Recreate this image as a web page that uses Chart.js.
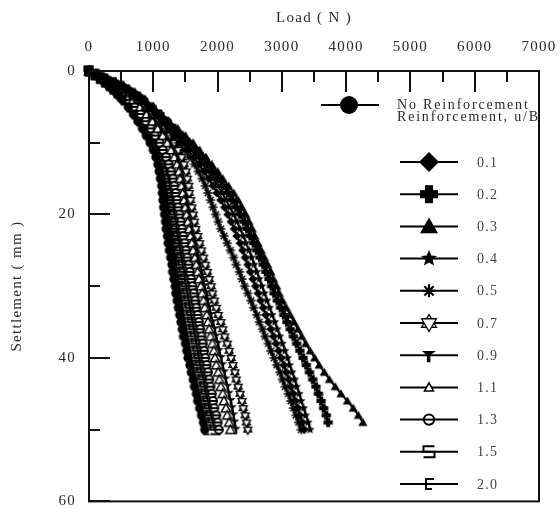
<!DOCTYPE html>
<html>
<head>
<meta charset="utf-8">
<script src="https://cdn.jsdelivr.net/npm/chart.js@4.4.0/dist/chart.umd.min.js"></script>
<style>
  html, body { margin: 0; padding: 0; background: #fff; }
  #wrap { width: 560px; height: 508px; }
</style>
</head>
<body>
<div id="wrap"><canvas id="chart" width="560" height="508"></canvas></div>
<script>
// settlement levels (mm) shared by all curves
const settlement = [0, 0.5, 1, 1.5, 2, 2.5, 3, 3.5, 4,
  5, 6, 7, 8, 9, 10, 11, 12, 13, 14, 15, 16, 17, 18, 19, 20,
  21, 22, 23, 24, 25, 26, 27, 28, 29, 30, 31, 32, 33, 34, 35,
  36, 37, 38, 39, 40, 41, 42, 43, 44, 45, 46, 47, 48, 49, 50];

// load (N) at those settlements
const loadNone = [0, 80, 160, 230, 300, 360, 420, 470, 520,
  610, 690, 760, 830, 890, 950, 1000, 1040, 1070, 1090, 1110, 1130, 1140, 1150, 1160, 1175,
  1190, 1200, 1220, 1230, 1250, 1270, 1290, 1300, 1320, 1340, 1350, 1370, 1390, 1410, 1430,
  1450, 1470, 1500, 1520, 1540, 1570, 1590, 1620, 1640, 1670, 1690, 1720, 1750, 1780, 1800];
const load01 = [0, 130, 250, 370, 480, 570, 650, 730, 800,
  930, 1040, 1150, 1250, 1350, 1450, 1540, 1630, 1710, 1790, 1860, 1930, 1990, 2050, 2110, 2160,
  2210, 2260, 2300, 2350, 2390, 2430, 2470, 2510, 2550, 2590, 2630, 2670, 2710, 2750, 2790,
  2830, 2870, 2910, 2950, 2990, 3030, 3070, 3110, 3140, 3180, 3210, 3250, 3280, 3320, 3350];
const load02 = [0, 140, 270, 400, 510, 600, 690, 770, 850,
  980, 1100, 1210, 1330, 1440, 1550, 1650, 1750, 1840, 1920, 2000, 2080, 2160, 2230, 2290, 2350,
  2410, 2460, 2510, 2560, 2610, 2660, 2710, 2750, 2800, 2840, 2880, 2930, 2980, 3030, 3080,
  3130, 3180, 3230, 3280, 3330, 3380, 3430, 3480, 3530, 3570, 3610, 3650, 3690, 3720, null];
const load03 = [0, 150, 280, 420, 540, 630, 720, 800, 880,
  1010, 1130, 1250, 1380, 1500, 1620, 1720, 1820, 1910, 2000, 2080, 2170, 2250, 2320, 2380, 2440,
  2490, 2540, 2580, 2630, 2680, 2730, 2780, 2830, 2870, 2920, 2960, 3010, 3070, 3130, 3190,
  3250, 3310, 3370, 3440, 3510, 3580, 3660, 3740, 3830, 3920, 4020, 4110, 4190, 4260, null];
const load04 = [0, 130, 260, 380, 490, 580, 670, 750, 820,
  950, 1070, 1180, 1290, 1390, 1490, 1590, 1680, 1770, 1850, 1930, 2000, 2070, 2130, 2190, 2250,
  2300, 2350, 2400, 2440, 2490, 2530, 2570, 2610, 2650, 2690, 2730, 2770, 2810, 2850, 2890,
  2930, 2970, 3010, 3050, 3090, 3120, 3160, 3200, 3230, 3270, 3300, 3340, 3370, 3410, 3440];
const load05 = [0, 120, 240, 360, 460, 550, 630, 710, 780,
  900, 1010, 1110, 1210, 1300, 1390, 1480, 1560, 1640, 1700, 1760, 1810, 1850, 1890, 1930, 1970,
  2010, 2050, 2100, 2150, 2200, 2250, 2290, 2340, 2380, 2420, 2470, 2520, 2560, 2610, 2650,
  2700, 2740, 2790, 2830, 2880, 2920, 2970, 3010, 3050, 3100, 3140, 3180, 3220, 3260, 3300];
const load07 = [0, 120, 230, 340, 440, 530, 610, 690, 760,
  880, 990, 1090, 1180, 1260, 1330, 1390, 1440, 1480, 1510, 1530, 1550, 1560, 1580, 1600, 1620,
  1640, 1660, 1690, 1720, 1750, 1780, 1810, 1840, 1870, 1900, 1920, 1950, 1980, 2010, 2050,
  2080, 2110, 2150, 2180, 2210, 2240, 2270, 2290, 2320, 2350, 2380, 2400, 2430, 2450, 2470];
const load09 = [0, 110, 220, 320, 420, 500, 580, 650, 720,
  840, 940, 1040, 1120, 1200, 1270, 1330, 1380, 1420, 1450, 1470, 1490, 1510, 1530, 1550, 1570,
  1590, 1610, 1630, 1660, 1680, 1700, 1730, 1750, 1780, 1800, 1830, 1850, 1880, 1900, 1930,
  1960, 1980, 2010, 2030, 2060, 2080, 2110, 2130, 2160, 2180, 2210, 2230, 2250, 2270, 2290];
const load11 = [0, 110, 210, 310, 400, 480, 550, 620, 690,
  800, 900, 990, 1070, 1150, 1220, 1280, 1330, 1370, 1400, 1420, 1440, 1460, 1480, 1500, 1520,
  1540, 1560, 1580, 1600, 1620, 1650, 1670, 1690, 1710, 1740, 1760, 1780, 1800, 1830, 1850,
  1870, 1890, 1920, 1940, 1960, 1980, 2010, 2030, 2050, 2080, 2100, 2130, 2150, 2180, 2200];
const load13 = [0, 100, 190, 280, 360, 420, 490, 550, 610,
  710, 800, 880, 960, 1030, 1100, 1150, 1200, 1240, 1280, 1310, 1330, 1350, 1370, 1390, 1410,
  1430, 1450, 1470, 1490, 1510, 1530, 1550, 1570, 1590, 1610, 1630, 1650, 1670, 1690, 1710,
  1730, 1750, 1770, 1790, 1810, 1830, 1850, 1870, 1890, 1910, 1930, 1950, 1980, 2000, 2020];
const load15 = [0, 90, 180, 260, 340, 400, 460, 520, 580,
  670, 760, 840, 910, 980, 1040, 1090, 1140, 1180, 1210, 1240, 1260, 1280, 1300, 1310, 1330,
  1350, 1360, 1380, 1400, 1420, 1440, 1460, 1480, 1490, 1510, 1530, 1550, 1570, 1590, 1610,
  1630, 1650, 1670, 1690, 1710, 1730, 1750, 1780, 1800, 1820, 1850, 1870, 1900, 1930, 1960];
const load20 = [0, 90, 170, 250, 320, 380, 440, 500, 550,
  640, 720, 800, 870, 930, 990, 1040, 1080, 1110, 1140, 1160, 1180, 1200, 1210, 1230, 1240,
  1260, 1270, 1290, 1300, 1320, 1340, 1350, 1370, 1390, 1400, 1420, 1440, 1450, 1470, 1490,
  1510, 1530, 1550, 1570, 1590, 1610, 1630, 1660, 1680, 1700, 1730, 1750, 1780, 1800, 1830];

const ratioLabels = ['0.1', '0.2', '0.3', '0.4', '0.5', '0.7', '0.9', '1.1', '1.3', '1.5', '2.0'];
const xTicks = [0, 1000, 2000, 3000, 4000, 5000, 6000, 7000];
const yTicks = [0, 20, 40, 60];

const FONT = "'Liberation Serif', 'Times New Roman', serif";
const TEXT = '#2a2a2a';

// marker shapes, drawn centred on (0,0) with fill/stroke already set to black
const shapes = {
  circle(c, r) { c.beginPath(); c.arc(0, 0, r, 0, Math.PI * 2); c.fill(); },
  diamond(c, r) {
    c.beginPath(); c.moveTo(0, -r); c.lineTo(r, 0); c.lineTo(0, r); c.lineTo(-r, 0);
    c.closePath(); c.fill();
  },
  plus(c, r) {
    const w = r * 0.45;
    c.fillRect(-r, -w, 2 * r, 2 * w);
    c.fillRect(-w, -r, 2 * w, 2 * r);
  },
  triangle(c, r) {
    c.beginPath(); c.moveTo(0, -r); c.lineTo(r, r * 0.75); c.lineTo(-r, r * 0.75);
    c.closePath(); c.fill();
  },
  star(c, r) {
    c.beginPath();
    for (let i = 0; i < 10; i++) {
      const a = -Math.PI / 2 + i * Math.PI / 5;
      const rr = i % 2 ? r * 0.45 : r;
      c.lineTo(Math.cos(a) * rr, Math.sin(a) * rr);
    }
    c.closePath(); c.fill();
  },
  asterisk(c, r) {
    c.lineWidth = Math.max(1.5, r / 3);
    c.beginPath();
    for (let i = 0; i < 4; i++) {
      const a = i * Math.PI / 4;
      c.moveTo(Math.cos(a) * r, Math.sin(a) * r);
      c.lineTo(-Math.cos(a) * r, -Math.sin(a) * r);
    }
    c.stroke();
  },
  hexagram(c, r) {
    c.lineWidth = 1.3;
    c.fillStyle = '#fff';
    [1, -1].forEach(d => {
      c.beginPath(); c.moveTo(0, -r * d); c.lineTo(r * 0.87, r * 0.5 * d); c.lineTo(-r * 0.87, r * 0.5 * d);
      c.closePath(); c.fill(); c.stroke();
    });
  },
  downTriangle(c, r) {
    c.beginPath(); c.moveTo(-r, -r * 0.6); c.lineTo(r, -r * 0.6); c.lineTo(r * 0.2, 0);
    c.lineTo(r * 0.2, r); c.lineTo(-r * 0.3, r); c.lineTo(-r * 0.3, 0); c.closePath(); c.fill();
  },
  openTriangle(c, r) {
    c.lineWidth = 1.5; c.fillStyle = '#fff';
    c.beginPath(); c.moveTo(0, -r); c.lineTo(r, r * 0.8); c.lineTo(-r, r * 0.8);
    c.closePath(); c.fill(); c.stroke();
  },
  openCircle(c, r) {
    c.lineWidth = 2; c.fillStyle = '#fff';
    c.beginPath(); c.arc(0, 0, r * 0.85, 0, Math.PI * 2); c.fill(); c.stroke();
    c.beginPath(); c.moveTo(-r, 0); c.lineTo(r, 0); c.stroke();
  },
  squareS(c, r) {
    c.lineWidth = 2;
    c.beginPath();
    c.moveTo(r, -r); c.lineTo(-r, -r); c.lineTo(-r, 0); c.lineTo(r, 0); c.lineTo(r, r); c.lineTo(-r, r);
    c.stroke();
  },
  bracket(c, r) {
    c.lineWidth = 2;
    c.beginPath();
    c.moveTo(r, -r); c.lineTo(-r * 0.6, -r); c.lineTo(-r * 0.6, r); c.lineTo(r * 0.6, r);
    c.moveTo(-r * 0.6, 0); c.lineTo(r * 0.5, 0);
    c.stroke();
  }
};

function makeMarker(shape, r) {
  const size = Math.ceil(r * 2 + 4);
  const cv = document.createElement('canvas');
  cv.width = size; cv.height = size;
  const c = cv.getContext('2d');
  c.translate(size / 2, size / 2);
  c.fillStyle = '#000'; c.strokeStyle = '#000';
  shapes[shape](c, r);
  return cv;
}

const series = [
  { label: 'No Reinforcement', loads: loadNone, shape: 'circle', legendR: 9 },
  { label: ratioLabels[0], loads: load01, shape: 'diamond', legendR: 10 },
  { label: ratioLabels[1], loads: load02, shape: 'plus', legendR: 9 },
  { label: ratioLabels[2], loads: load03, shape: 'triangle', legendR: 9 },
  { label: ratioLabels[3], loads: load04, shape: 'star', legendR: 8.5 },
  { label: ratioLabels[4], loads: load05, shape: 'asterisk', legendR: 6.5 },
  { label: ratioLabels[5], loads: load07, shape: 'hexagram', legendR: 8.5 },
  { label: ratioLabels[6], loads: load09, shape: 'downTriangle', legendR: 7 },
  { label: ratioLabels[7], loads: load11, shape: 'openTriangle', legendR: 4.5 },
  { label: ratioLabels[8], loads: load13, shape: 'openCircle', legendR: 6 },
  { label: ratioLabels[9], loads: load15, shape: 'squareS', legendR: 5.5 },
  { label: ratioLabels[10], loads: load20, shape: 'bracket', legendR: 5 }
];

const datasets = series.map(s => ({
  label: s.label,
  data: settlement.map((y, i) => ({ x: s.loads[i], y })).filter(p => p.x !== null),
  borderColor: '#000',
  backgroundColor: '#000',
  borderWidth: 2,
  pointStyle: makeMarker(s.shape, 4.6),
  pointRadius: 4.6,
  pointHoverRadius: 4.6,
  tension: 0,
  clip: 8
}));

// box, inward ticks and the legend that sits inside the plot
const decorPlugin = {
  id: 'decor',
  beforeDraw(chart) {
    chart.ctx.letterSpacing = '1.3px';
  },
  afterDraw(chart) {
    const c = chart.ctx;
    const { left, right, top, bottom } = chart.chartArea;
    const xs = chart.scales.x, ys = chart.scales.y;
    c.save();
    c.strokeStyle = '#111';
    c.lineWidth = 2;
    c.strokeRect(left, top, right - left, bottom - top);
    c.beginPath();
    for (let v = 0; v <= 7000; v += 500) {
      const px = Math.round(xs.getPixelForValue(v));
      const len = xTicks.includes(v) ? 21 : 11;
      c.moveTo(px, top); c.lineTo(px, top + len);
    }
    for (let v = 0; v <= 60; v += 10) {
      const py = Math.round(ys.getPixelForValue(v));
      const len = yTicks.includes(v) ? 21 : 11;
      c.moveTo(left, py); c.lineTo(left + len, py);
    }
    c.stroke();

    // legend
    c.fillStyle = '#000';
    c.strokeStyle = '#000';
    c.lineWidth = 2;
    c.beginPath(); c.moveTo(321, 105); c.lineTo(379, 105); c.stroke();
    c.save(); c.translate(349, 105); shapes.circle(c, series[0].legendR); c.restore();

    c.font = '14px ' + FONT;
    c.letterSpacing = '1.8px';
    c.textBaseline = 'middle';
    c.textAlign = 'left';
    c.fillStyle = TEXT;
    c.fillText('No Reinforcement', 397, 105);
    c.fillText('Reinforcement, u/B', 397, 117);

    c.letterSpacing = '1.3px';
    c.font = '14px ' + FONT;
    series.slice(1).forEach((s, i) => {
      const y = 162 + i * 32.2;
      c.strokeStyle = '#000'; c.fillStyle = '#000'; c.lineWidth = 2;
      c.beginPath(); c.moveTo(400, y); c.lineTo(458, y); c.stroke();
      c.save(); c.translate(429, y); shapes[s.shape](c, s.legendR); c.restore();
      c.fillStyle = '#444';
      c.fillText(s.label, 477, y + 1);
    });
    c.restore();
  }
};

const tickFont = { family: FONT, size: 15 };

new Chart(document.getElementById('chart'), {
  type: 'line',
  data: { datasets },
  options: {
    responsive: false,
    animation: false,
    events: [],
    layout: { padding: { top: 0, left: 0, right: 21, bottom: 5 } },
    plugins: { legend: { display: false }, tooltip: { enabled: false } },
    scales: {
      x: {
        type: 'linear',
        position: 'top',
        min: 0,
        max: 7000,
        grid: { display: false, drawTicks: false },
        border: { display: false },
        ticks: {
          stepSize: 500,
          autoSkip: false,
          maxRotation: 0,
          padding: 15,
          color: TEXT,
          font: tickFont,
          callback: v => xTicks.includes(v) ? String(v) : ''
        },
        title: { display: true, text: 'Load ( N )', color: TEXT, font: tickFont, padding: { top: 9 } },
        afterFit: s => { s.height = 71; s.paddingLeft = 0; s.paddingRight = 0; }
      },
      y: {
        type: 'linear',
        reverse: true,
        min: 0,
        max: 60,
        grid: { display: false, drawTicks: false },
        border: { display: false },
        ticks: {
          stepSize: 10,
          autoSkip: false,
          padding: 13,
          color: TEXT,
          font: tickFont,
          callback: v => yTicks.includes(v) ? String(v) : ''
        },
        title: { display: true, text: 'Settlement ( mm )', color: TEXT, font: tickFont, padding: { top: 8 } },
        afterFit: s => { s.width = 89; s.paddingTop = 0; s.paddingBottom = 0; }
      }
    }
  },
  plugins: [decorPlugin]
});
</script>
</body>
</html>
